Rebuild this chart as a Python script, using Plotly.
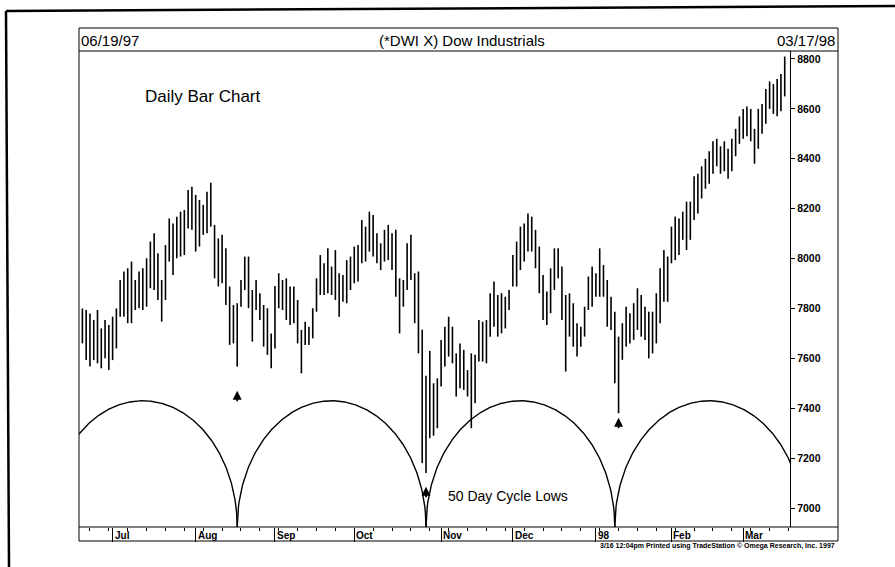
import plotly.graph_objects as go
import numpy as np

W, H = 895, 567

start_label = "06/19/97"
end_label = "03/17/98"
title_text = "(*DWI X) Dow Industrials"
chart_note = "Daily Bar Chart"
cycle_note = "50 Day Cycle Lows"
footer = "3/16 12:04pm Printed using TradeStation \u00a9 Omega Research, Inc. 1997"

# daily bars, one per trading day from 06/19/97 to 03/17/98
highs = [
    7800, 7794, 7780, 7754, 7794, 7720, 7754, 7734, 7767, 7800,
    7914, 7948, 7961, 7988, 7914, 7948, 7961, 8001, 8068, 8101,
    8021, 7914, 8054, 8161, 8141, 8168, 8188, 8195, 8275, 8288,
    8255, 8235, 8215, 8268, 8304, 8135, 8081, 8095, 8041, 7888,
    7814, 7821, 7914, 8008, 8008, 7874, 7914, 7861, 7814, 7801,
    7700, 7890, 7941, 7914, 7921, 7888, 7888, 7834, 7714, 7747,
    7727, 7801, 7921, 8014, 7981, 8041, 7968, 8034, 7941, 7934,
    7994, 8008, 8048, 8054, 8155, 8128, 8188, 8175, 8101, 8061,
    8115, 8135, 8101, 8115, 7921, 7914, 8061, 8095, 7941, 7948,
    7715, 7530, 7630, 7500, 7520, 7674, 7727, 7767, 7727, 7620,
    7660, 7634, 7553, 7620, 7614, 7754, 7747, 7754, 7861, 7908,
    7854, 7861, 7847, 7874, 8014, 8068, 8128, 8141, 8181, 8168,
    8115, 8048, 7934, 7868, 7961, 8041, 8041, 7968, 7854, 7861,
    7821, 7741, 7727, 7807, 7928, 7968, 7941, 8041, 7974, 7914,
    7847, 7787, 7687, 7741, 7807, 7781, 7821, 7881, 7854, 7807,
    7787, 7787, 7861, 7961, 8034, 8008, 8128, 8168, 8161, 8188,
    8228, 8228, 8330, 8340, 8370, 8400, 8430, 8470, 8480, 8450,
    8470, 8440, 8480, 8520, 8570, 8600, 8610, 8600, 8520, 8600,
    8620, 8680, 8710, 8700, 8720, 8740, 8810,
]
lows = [
    7660, 7593, 7567, 7593, 7580, 7560, 7600, 7553, 7593, 7640,
    7767, 7767, 7741, 7741, 7794, 7801, 7794, 7807, 7881, 7874,
    7834, 7747, 7834, 7988, 7934, 8001, 8008, 8014, 8121, 8115,
    8028, 8048, 8095, 8101, 8128, 7921, 7888, 7901, 7814, 7654,
    7660, 7567, 7807, 7874, 7801, 7667, 7794, 7754, 7647, 7614,
    7560, 7640, 7801, 7794, 7754, 7734, 7741, 7660, 7540, 7654,
    7654, 7680, 7787, 7854, 7854, 7861, 7854, 7834, 7767, 7827,
    7821, 7874, 7901, 7908, 7981, 7988, 8028, 8008, 7981, 7954,
    7988, 7994, 7954, 7847, 7700, 7807, 7874, 7914, 7741, 7620,
    7180, 7140, 7280, 7290, 7320, 7487, 7567, 7607, 7580, 7447,
    7480, 7473, 7447, 7320, 7420, 7587, 7587, 7580, 7687, 7727,
    7687, 7700, 7720, 7794, 7888, 7888, 7954, 7988, 8028, 8028,
    7961, 7861, 7754, 7734, 7781, 7874, 7921, 7754, 7547, 7687,
    7647, 7607, 7647, 7687, 7794, 7807, 7847, 7847, 7847, 7727,
    7714, 7500, 7380, 7594, 7647, 7660, 7674, 7714, 7687, 7674,
    7600, 7620, 7660, 7741, 7827, 7827, 7981, 7994, 8014, 8075,
    8034, 8075, 8155, 8181, 8241, 8280, 8300, 8340, 8370, 8340,
    8350, 8320, 8350, 8410, 8460, 8480, 8490, 8470, 8380, 8440,
    8500, 8540, 8600, 8580, 8570, 8590, 8650,
]

month_labels = ["Jul", "Aug", "Sep", "Oct", "Nov", "Dec", "98", "Feb", "Mar"]
month_starts = [8, 30, 51, 72, 95, 114, 136, 156, 175]

y_ticks = [7000, 7200, 7400, 7600, 7800, 8000, 8200, 8400, 8600, 8800]

cycle_lows = [41, 91, 141]
cycle_len = 50
arc_top = 7430

arrow_idx = [41, 91, 142]
arrow_tip = [7470, 7085, 7362]

# ---- geometry (pixels) ----
PL, PR, PT, PB = 79, 790, 51, 527
Y0, Y1 = 6924, 8832
X0, X1 = -0.9, 187.4
FONT = "Liberation Sans, Arial, sans-serif"


def fx(p):
    return p / W


def fy(p):
    return 1 - p / H


fig = go.Figure()

# bars
bx, by = [], []
for i, (h, l) in enumerate(zip(highs, lows)):
    bx += [i, i, None]
    by += [l, h, None]
fig.add_trace(go.Scatter(x=bx, y=by, mode="lines",
                         line=dict(color="black", width=1.6),
                         hoverinfo="skip", showlegend=False))

# cycle arcs
centers = [cycle_lows[0] - cycle_len] + cycle_lows
ax_, ay_ = [], []
r = cycle_len / 2
for s in centers:
    t = np.linspace(s, s + cycle_len, 301)
    c = s + r
    v = Y0 + (arc_top - Y0) * np.sqrt(np.clip(1 - ((t - c) / r) ** 2, 0, 1))
    ax_ += list(t) + [None]
    ay_ += list(v) + [None]
fig.add_trace(go.Scatter(x=ax_, y=ay_, mode="lines",
                         line=dict(color="black", width=1.4),
                         hoverinfo="skip", showlegend=False))

shapes = []


def line(x0, y0, x1, y1, w=1.0):
    shapes.append(dict(type="line", xref="paper", yref="paper",
                       x0=fx(x0), y0=fy(y0), x1=fx(x1), y1=fy(y1),
                       line=dict(color="black", width=w)))


# scanned page frame
line(6, 11, 895, 6, 2.5)
line(6, 11, 9, 567, 2.5)
# chart box
line(79, 28, 838, 28)
line(79, 28, 79, 541)
line(838, 28, 838, 541)
line(79, 541, 838, 541)
line(79, 51, 838, 51)
line(79, 527, 838, 527)

ann = []


def text(x, y, s, size, anchor="left", bold=False):
    ann.append(dict(xref="paper", yref="paper", x=fx(x), y=fy(y), text=s,
                    showarrow=False, xanchor=anchor, yanchor="middle",
                    font=dict(family=FONT, size=size, color="black",
                              weight="bold" if bold else "normal")))


text(79, 40, start_label, 15)
text(462, 40, title_text, 15, "center")
text(837, 40, end_label, 15, "right")
text(143, 96, chart_note, 17)
text(446, 496, cycle_note, 14)
text(837, 546, footer, 7, "right", bold=True)

for lab, idx in zip(month_labels, month_starts):
    ann.append(dict(xref="x", yref="paper", x=idx, y=fy(535), text=lab,
                    showarrow=False, xanchor="left", yanchor="middle", xshift=0,
                    font=dict(family=FONT, size=10, color="black", weight="bold")))

for idx, tip in zip(arrow_idx, arrow_tip):
    ann.append(dict(xref="x", yref="y", x=idx, y=tip, text="", showarrow=True,
                    ax=0, ay=12, arrowhead=2, arrowsize=1, arrowwidth=1.8,
                    arrowcolor="black"))

fig.update_layout(
    width=W, height=H,
    margin=dict(l=0, r=0, t=0, b=0),
    paper_bgcolor="white", plot_bgcolor="white",
    shapes=shapes, annotations=ann, showlegend=False,
    xaxis=dict(domain=[fx(PL), fx(PR)], range=[X0, X1],
               showgrid=False, zeroline=False, showline=False,
               tickmode="array", tickvals=month_starts, ticks="outside",
               ticklen=14, tickwidth=1, tickcolor="black",
               showticklabels=False,
               minor=dict(ticks="outside", ticklen=3, tickwidth=1,
                          tickcolor="black", tick0=2, dtick=5)),
    yaxis=dict(domain=[fy(PB), fy(PT)], range=[Y0, Y1], side="right",
               showgrid=False, zeroline=False, showline=True,
               linecolor="black", linewidth=1.2,
               tickmode="array", tickvals=y_ticks, ticks="outside",
               ticklen=4, tickwidth=1, tickcolor="black",
               tickfont=dict(family=FONT, size=10.5, color="black", weight="bold")),
)

fig.write_html("out.html", config={"displayModeBar": False},
               post_script="document.body.style.margin='0px';")
